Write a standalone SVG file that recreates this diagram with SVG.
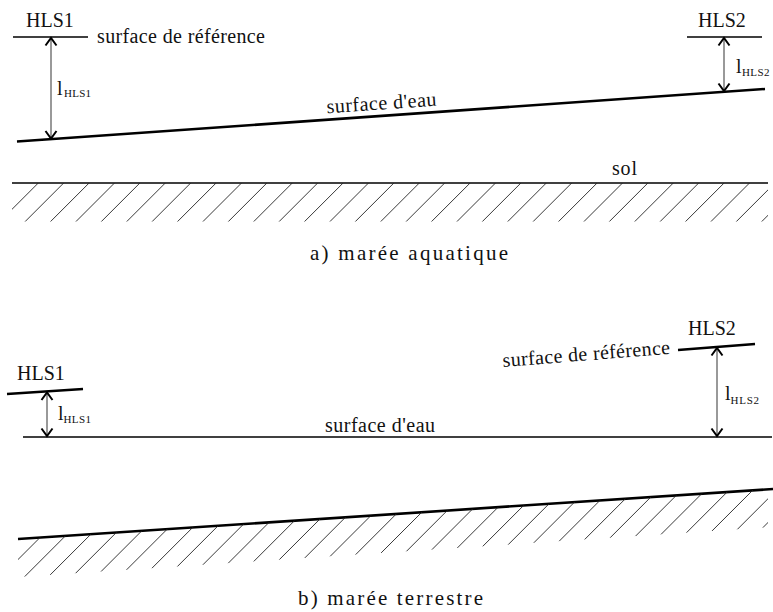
<svg xmlns="http://www.w3.org/2000/svg" width="773" height="612" viewBox="0 0 773 612">
<style>
.lbl{font-size:20px;fill:#111}
.cap{font-size:21px;fill:#111}
.sub{font-size:11px;fill:#111}
.thin{stroke:#000;stroke-width:1.3;fill:none}
.thick{stroke:#000;stroke-width:2.6;fill:none;stroke-linecap:butt}
.hatch{stroke:#222;stroke-width:0.9;fill:none}
.dim{stroke:#555;stroke-width:1.2;fill:none;marker-start:url(#chev);marker-end:url(#chev)}
</style>
<defs>
<marker id="chev" markerWidth="14" markerHeight="14" refX="10" refY="6" orient="auto-start-reverse" markerUnits="userSpaceOnUse" overflow="visible">
<path d="M2.5,0.5 L10,6 L2.5,11.5" fill="none" stroke="#000" stroke-width="2"/>
</marker>
<clipPath id="clipA"><rect x="12" y="182" width="756" height="40"/></clipPath>
<clipPath id="clipB"><polygon points="18,539 768,489.3 768,527.3 18,577"/></clipPath>
</defs>
<rect width="773" height="612" fill="#fff"/>
<g font-family="'Liberation Serif', 'Times New Roman', serif">
<g id="a-hls1">
<line class="thin" x1="13" y1="37" x2="88" y2="37"/>
<text class="lbl" x="26" y="27">HLS1</text>
<text class="lbl" x="97" y="43" textLength="168">surface de référence</text>
</g>
<g id="a-hls2">
<line class="thin" x1="687" y1="37" x2="762" y2="37"/>
<text class="lbl" x="698" y="27">HLS2</text>
</g>
<g id="a-water">
<line class="thick" x1="17" y1="141.5" x2="765" y2="89"/>
<text class="lbl" x="327" y="113.3" textLength="110" transform="rotate(-4 327 113.3)">surface d'eau</text>
</g>
<g id="a-ground">
<line class="thin" x1="12" y1="183" x2="768" y2="183"/>
<path class="hatch" clip-path="url(#clipA)" d="M38.3 183l-38.5 38.5M63.7 183l-38.5 38.5M89.1 183l-38.5 38.5M114.5 183l-38.5 38.5M139.9 183l-38.5 38.5M165.3 183l-38.5 38.5M190.7 183l-38.5 38.5M216.1 183l-38.5 38.5M241.5 183l-38.5 38.5M266.9 183l-38.5 38.5M292.3 183l-38.5 38.5M317.7 183l-38.5 38.5M343.1 183l-38.5 38.5M368.5 183l-38.5 38.5M393.9 183l-38.5 38.5M419.3 183l-38.5 38.5M444.7 183l-38.5 38.5M470.1 183l-38.5 38.5M495.5 183l-38.5 38.5M520.9 183l-38.5 38.5M546.3 183l-38.5 38.5M571.7 183l-38.5 38.5M597.1 183l-38.5 38.5M622.5 183l-38.5 38.5M647.9 183l-38.5 38.5M673.3 183l-38.5 38.5M698.7 183l-38.5 38.5M724.1 183l-38.5 38.5M749.5 183l-38.5 38.5M774.9 183l-38.5 38.5M800.3 183l-38.5 38.5"/>
<text class="lbl" x="612" y="175" textLength="25">sol</text>
</g>
<g id="a-caption">
<text class="cap" x="310" y="260" textLength="198">a) marée aquatique</text>
</g>
<g id="b-hls1">
<line class="thick" x1="7" y1="394" x2="83" y2="389"/>
<text class="lbl" x="17" y="380">HLS1</text>
</g>
<g id="b-hls2">
<line class="thick" x1="678" y1="350" x2="755" y2="344"/>
<text class="lbl" x="688" y="335">HLS2</text>
<text class="lbl" x="503" y="367" textLength="168" transform="rotate(-4.5 503 367)">surface de référence</text>
</g>
<g id="b-water">
<line class="thin" x1="23" y1="437" x2="772" y2="437"/>
<text class="lbl" x="325" y="431.7" textLength="110">surface d'eau</text>
</g>
<g id="b-ground">
<line class="thick" x1="18" y1="539" x2="773" y2="489"/>
<path class="hatch" clip-path="url(#clipB)" d="M83.78 470l-140 140M107.54 470l-140 140M131.31 470l-140 140M155.07 470l-140 140M178.84 470l-140 140M202.6 470l-140 140M226.37 470l-140 140M250.13 470l-140 140M273.9 470l-140 140M297.66 470l-140 140M321.43 470l-140 140M345.19 470l-140 140M368.96 470l-140 140M392.72 470l-140 140M416.49 470l-140 140M440.25 470l-140 140M464.02 470l-140 140M487.78 470l-140 140M511.55 470l-140 140M535.31 470l-140 140M559.08 470l-140 140M582.84 470l-140 140M606.61 470l-140 140M630.37 470l-140 140M654.14 470l-140 140M677.9 470l-140 140M701.67 470l-140 140M725.43 470l-140 140M749.2 470l-140 140M772.96 470l-140 140M796.73 470l-140 140M820.49 470l-140 140M844.26 470l-140 140"/>
</g>
<g id="b-caption">
<text class="cap" x="298" y="605" textLength="185">b) marée terrestre</text>
</g>
<g id="connectors">
<line class="dim" x1="51" y1="38" x2="51" y2="138.5"/>
<line class="dim" x1="724" y1="38" x2="724" y2="91"/>
<line class="dim" x1="47" y1="392.5" x2="47" y2="436"/>
<line class="dim" x1="717" y1="348" x2="717" y2="436"/>
</g>
<g id="dim-labels">
<text class="lbl" x="57" y="95">l</text><text class="sub" x="64" y="97" textLength="27">HLS1</text>
<text class="lbl" x="736" y="73">l</text><text class="sub" x="742" y="76" textLength="27.5">HLS2</text>
<text class="lbl" x="58" y="419.5">l</text><text class="sub" x="63.5" y="423" textLength="27.5">HLS1</text>
<text class="lbl" x="725" y="400">l</text><text class="sub" x="730.5" y="403.5" textLength="28.5">HLS2</text>
</g>
</g>
</svg>
